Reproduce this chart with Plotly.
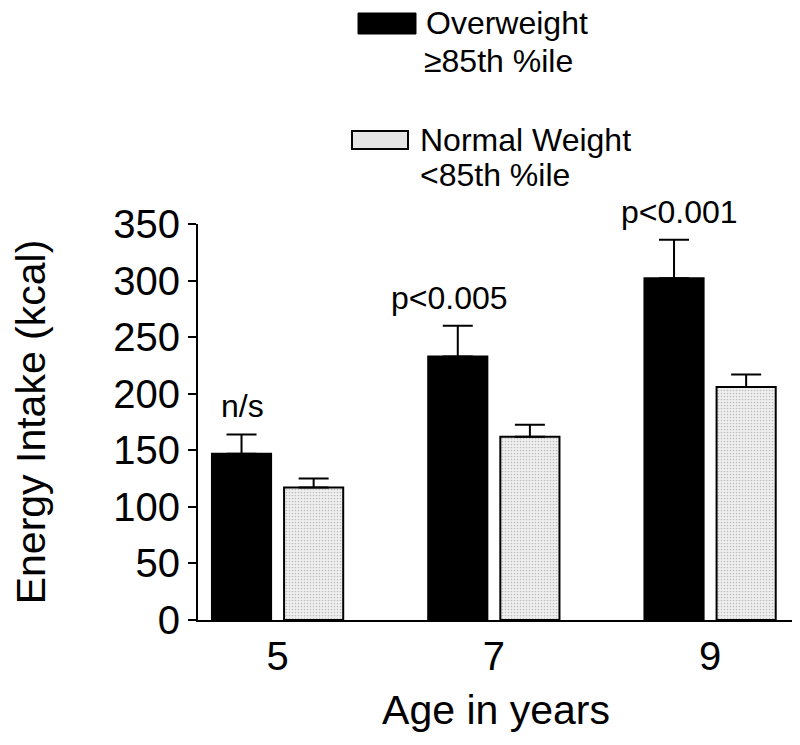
import plotly.graph_objects as go

# Data
AGES = ["5", "7", "9"]
OVERWEIGHT = [147, 233, 302]
OVERWEIGHT_ERR = [17, 27, 34]
NORMAL = [117, 162, 206]
NORMAL_ERR = [8, 10.5, 11]
P_LABELS = ["n/s", "p<0.005", "p<0.001"]
Y_TICKS = [0, 50, 100, 150, 200, 250, 300, 350]

FONT = "Liberation Sans, Arial, Helvetica, sans-serif"

# the page body adds an 8px margin, so the figure is drawn 8px smaller
OFF = 8
W, H = 800 - OFF, 745 - OFF
# plot area in screen pixels of the reference
L, R, T, B = 198, 794, 224, 620


def px(x):
    return (x - L) / (R - L)


def py(y):
    return (B - y) / (B - T)


fig = go.Figure()

fig.add_trace(go.Bar(
    x=AGES, y=OVERWEIGHT, name="Overweight",
    marker=dict(color="black", line=dict(color="black", width=2)),
    error_y=dict(type="data", array=OVERWEIGHT_ERR, arrayminus=[0, 0, 0],
                 symmetric=False, color="black", thickness=2, width=15),
))
fig.add_trace(go.Bar(
    x=AGES, y=NORMAL, name="Normal Weight",
    marker=dict(color="#efefef", line=dict(color="black", width=2),
                pattern=dict(shape=".", bgcolor="#f0f0f0", fgcolor="#8a8a8a",
                             size=3, solidity=0.25)),
    error_y=dict(type="data", array=NORMAL_ERR, arrayminus=[0, 0, 0],
                 symmetric=False, color="black", thickness=2, width=15),
))

# significance labels above the overweight bars
shifts = [-35, -44, -31]
for i, (val, err, lab, sh) in enumerate(zip(OVERWEIGHT, OVERWEIGHT_ERR, P_LABELS, shifts)):
    fig.add_annotation(x=i, y=val + err, text=lab, showarrow=False,
                       xshift=sh, yshift=8, yanchor="bottom",
                       font=dict(size=32, color="black", family=FONT))

# hand-drawn legend at the top
fig.add_shape(type="rect", xref="paper", yref="paper",
              x0=px(358), x1=px(416), y0=py(34), y1=py(13),
              fillcolor="black", line=dict(color="black", width=1))
fig.add_shape(type="rect", xref="paper", yref="paper",
              x0=px(352), x1=px(408), y0=py(149), y1=py(131),
              fillcolor="#e4e4e4", line=dict(color="black", width=2))
legend_lines = [
    ("Overweight", 424, 23),
    ("≥85th %ile", 422, 61),
    ("Normal Weight", 418, 140),
    ("<85th %ile", 418, 175),
]
for txt, lx, ly in legend_lines:
    fig.add_annotation(xref="paper", yref="paper", x=px(lx), y=py(ly),
                       text=txt, showarrow=False, xanchor="left", yanchor="middle",
                       font=dict(size=32, color="black", family=FONT))

fig.update_layout(
    width=W, height=H,
    margin=dict(l=L - OFF, r=W - (R - OFF), t=T - OFF, b=H - (B - OFF)),
    paper_bgcolor="white", plot_bgcolor="white",
    barmode="group", bargap=0.333, bargroupgap=0.18,
    showlegend=False,
    font=dict(family=FONT, color="black"),
)
fig.update_xaxes(
    type="category", range=[-0.368, 2.388],
    showline=True, linecolor="black", linewidth=2,
    ticks="", showgrid=False, zeroline=False,
    tickfont=dict(size=40), ticklabelstandoff=0,
    title=dict(text="Age in years", font=dict(size=41), standoff=18),
)
fig.update_yaxes(
    range=[0, 350], tickvals=Y_TICKS,
    showline=True, linecolor="black", linewidth=2,
    ticks="outside", ticklen=8, tickwidth=2, tickcolor="black",
    showgrid=False, zeroline=False,
    tickfont=dict(size=40),
    title=dict(text="Energy Intake (kcal)", font=dict(size=41), standoff=66),
)

fig.write_html("out.html", config={"displayModeBar": False})
